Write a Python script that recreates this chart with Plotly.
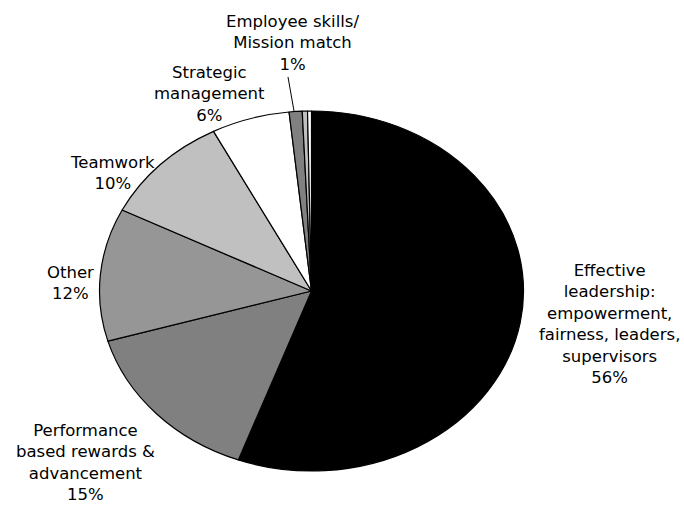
import plotly.graph_objects as go

# Survey responses: share of answers per theme (clockwise from 12 o'clock)
categories = [
    "Effective<br>leadership:<br>empowerment,<br>fairness, leaders,<br>supervisors",
    "Performance<br>based rewards &<br>advancement",
    "Other",
    "Teamwork",
    "Strategic<br>management",
    "Employee skills/<br>Mission match",
    "Minor theme A",
    "Minor theme B",
]
values = [56, 15, 12, 10, 6, 1, 0.4, 0.3]
show_label = [True, True, True, True, True, True, False, False]

# Slice fills
colors = ["#000000", "#808080", "#969696", "#C0C0C0", "#FFFFFF",
          "#808080", "#C0C0C0", "#FFFFFF"]

W, H = 684, 507
# Pie placement (pixels): centre and vertical radius, plus horizontal stretch
CX, CY, R = 311.5, 291.0, 180.0
STRETCH_X = 212.0 / 180.0

# Label block centres in pixels (only for labelled slices)
label_xy = [(609, 324), (85, 462), (70, 283), (112, 173), (209, 94), (292, 43)]

fig = go.Figure()
fig.add_trace(go.Pie(
    labels=categories,
    values=values,
    sort=False,
    direction="clockwise",
    rotation=0,
    textinfo="none",
    hoverinfo="label+percent",
    marker=dict(colors=colors, line=dict(color="#000000", width=1.2)),
    domain=dict(x=[(CX - 200) / W, (CX + 200) / W],
                y=[(H - (CY + R)) / H, (H - (CY - R)) / H]),
    showlegend=False,
))

labelled = [(c, v) for c, v, s in zip(categories, values, show_label) if s]
for (cat, val), (px, py) in zip(labelled, label_xy):
    fig.add_annotation(
        x=px / W, y=1 - py / H, xref="paper", yref="paper",
        text=f"{cat}<br>{val:g}%",
        showarrow=False, xanchor="center", yanchor="middle", align="center",
        font=dict(family="DejaVu Sans", size=16.5, color="#000000"),
    )

# Leader line from the small-slice label down to its slice
fig.add_shape(type="line", xref="paper", yref="paper",
              x0=288 / W, y0=1 - 77 / H, x1=294 / W, y1=1 - 111 / H,
              line=dict(color="#000000", width=1))

fig.update_layout(
    width=W, height=H,
    margin=dict(l=0, r=0, t=0, b=0),
    paper_bgcolor="#FFFFFF",
    plot_bgcolor="#FFFFFF",
    showlegend=False,
)

# Stretch the pie horizontally into an ellipse around its own centre
post_js = """
var gd = document.getElementById('{plot_id}');
gd.querySelectorAll('.pielayer path.surface').forEach(function(p){
  var m = /^M\\s*([\\-\\d.e]+)[ ,]+([\\-\\d.e]+)/.exec(p.getAttribute('d') || '');
  if(!m) return;
  var cx = parseFloat(m[1]), cy = parseFloat(m[2]);
  p.setAttribute('transform', 'translate(' + cx + ',' + cy + ') scale(%SX%,1) translate(' + (-cx) + ',' + (-cy) + ')');
  p.style.vectorEffect = 'non-scaling-stroke';
});
""".replace("%SX%", repr(STRETCH_X))

fig.write_html("out.html", post_script=post_js)
